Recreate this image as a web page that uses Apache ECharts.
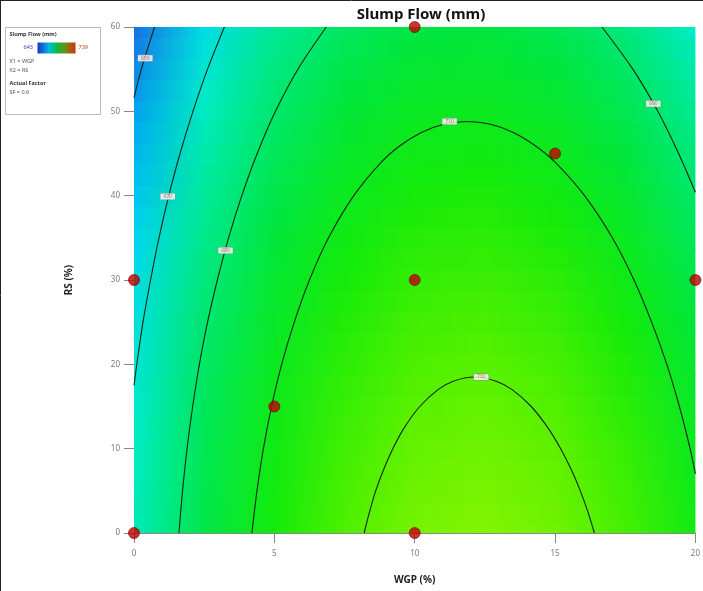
<!DOCTYPE html>
<html><head><meta charset="utf-8">
<script src="https://cdn.jsdelivr.net/npm/echarts@6/dist/echarts.min.js"></script>
<style>html,body{margin:0;padding:0;background:#fff}#c{width:703px;height:591px}</style>
</head><body><div id="c"></div>
<script>
// ---- data ----
const wgpCols = [0, 2.5, 5, 7.5, 10, 12.5, 15, 17.5, 20];
const rsRows = [0, 2.5, 5, 7.5, 10, 12.5, 15, 17.5, 20, 22.5, 25, 27.5, 30, 32.5, 35, 37.5, 40, 42.5, 45, 47.5, 50, 52.5, 55, 57.5, 60];
const slumpGrid = [
  [674.9, 697.5, 715.1, 727.5, 734.7, 736.9, 733.9, 725.8, 712.6],
  [674.4, 697.0, 714.5, 726.8, 734.1, 736.2, 733.2, 725.0, 711.8],
  [673.9, 696.4, 713.9, 726.2, 733.3, 735.4, 732.3, 724.2, 710.8],
  [673.2, 695.8, 713.1, 725.4, 732.5, 734.6, 731.5, 723.2, 709.9],
  [672.6, 695.0, 712.4, 724.6, 731.7, 733.6, 730.5, 722.2, 708.8],
  [671.8, 694.2, 711.5, 723.7, 730.7, 732.6, 729.4, 721.1, 707.7],
  [671.0, 693.3, 710.6, 722.7, 729.7, 731.6, 728.3, 720.0, 706.5],
  [670.0, 692.4, 709.6, 721.7, 728.6, 730.4, 727.1, 718.7, 705.2],
  [669.1, 691.3, 708.5, 720.5, 727.4, 729.2, 725.9, 717.4, 703.8],
  [668.0, 690.2, 707.3, 719.3, 726.2, 727.9, 724.5, 716.0, 702.4],
  [666.9, 689.1, 706.1, 718.1, 724.9, 726.6, 723.1, 714.6, 700.9],
  [665.7, 687.8, 704.8, 716.7, 723.5, 725.1, 721.7, 713.0, 699.3],
  [664.4, 686.5, 703.5, 715.3, 722.0, 723.6, 720.1, 711.4, 697.7],
  [663.0, 685.1, 702.0, 713.8, 720.5, 722.0, 718.5, 709.8, 696.0],
  [661.6, 683.6, 700.5, 712.2, 718.9, 720.4, 716.8, 708.0, 694.2],
  [660.1, 682.1, 698.9, 710.6, 717.2, 718.7, 715.0, 706.2, 692.3],
  [658.5, 680.4, 697.2, 708.9, 715.4, 716.9, 713.1, 704.3, 690.3],
  [656.9, 678.8, 695.5, 707.1, 713.6, 715.0, 711.2, 702.3, 688.3],
  [655.2, 677.0, 693.7, 705.3, 711.7, 713.0, 709.2, 700.3, 686.2],
  [653.4, 675.1, 691.8, 703.3, 709.7, 711.0, 707.2, 698.2, 684.1],
  [651.5, 673.2, 689.8, 701.3, 707.7, 708.9, 705.0, 696.0, 681.9],
  [649.6, 671.2, 687.8, 699.2, 705.6, 706.7, 702.8, 693.7, 679.5],
  [647.6, 669.2, 685.7, 697.1, 703.4, 704.5, 700.5, 691.4, 677.2],
  [645.5, 667.1, 683.5, 694.9, 701.1, 702.2, 698.1, 689.0, 674.7],
  [643.3, 664.8, 681.3, 692.6, 698.7, 699.8, 695.7, 686.5, 672.2]
];
const contour650 = [[0,51.6],[0.18,54],[0.35,56],[0.54,58],[0.73,60]];
const contour670 = [[0,17.5],[0.10,20],[0.32,25],[0.59,30],[0.89,35],[1.24,40],[1.64,45],[2.10,50],[2.62,55],[3.22,60]];
const contour690L = [[1.60,0],[1.73,5],[1.89,10],[2.09,15],[2.33,20],[2.62,25],[2.97,30],[3.37,35],[3.84,40],[4.39,45],[5.04,50],[5.84,55],[6.85,60]];
const contour690R = [[16.67,60],[17.77,55],[18.66,50],[19.40,45],[20,40.4]];
const contour710 = [[4.20,0],[4.38,5],[4.61,10],[4.90,15],[5.26,20],[5.71,25],[6.25,30],[6.93,35],[7.83,40],[8.82,44],[9.51,46],[10.24,47.5],[11.06,48.5],[11.86,48.8],[12.67,48.5],[13.51,47.5],[14.26,46],[14.99,44],[16.05,40],[17.04,35],[17.81,30],[18.44,25],[18.98,20],[19.43,15],[19.81,10],[20,7.0]];
const contour730 = [[8.20,0],[8.39,2.5],[8.61,5],[8.89,7.5],[9.22,10],[9.63,12.5],[10.18,15],[10.83,17],[11.37,18],[12.13,18.5],[12.90,18],[13.47,17],[14.15,15],[14.74,12.5],[15.20,10],[15.58,7.5],[15.90,5],[16.17,2.5],[16.40,0]];
const contourLabelText = ['650', '670', '690', '690', '710', '730'];
const contourLabelAt = [[0.4,56.3],[1.2,39.9],[3.26,33.5],[18.5,50.9],[11.24,48.8],[12.37,18.5]];
const designWGP = [10, 15, 10, 20, 0, 5, 0, 10];
const designRS  = [60, 45, 30, 30, 30, 15, 0, 0];
const xTicks = [0, 5, 10, 15, 20];
const yTicks = [0, 10, 20, 30, 40, 50, 60];
const legendMin = 643, legendMax = 739;

// ---- colour scale (style) ----
const cStops = [
  [643, [25,110,225]], [652, [0,165,240]], [662, [0,215,240]], [672, [0,235,200]],
  [685, [0,232,130]], [700, [0,230,60]], [715, [20,235,10]], [728, [80,240,0]], [739, [140,245,0]]
];
function colorOf(v){
  if (v <= cStops[0][0]) return 'rgb(' + cStops[0][1].join(',') + ')';
  for (let k = 1; k < cStops.length; k++){
    if (v <= cStops[k][0]){
      const a = cStops[k-1], b = cStops[k], t = (v - a[0]) / (b[0] - a[0]);
      const c = a[1].map((q, i) => Math.round(q + (b[1][i] - q) * t));
      return 'rgb(' + c.join(',') + ')';
    }
  }
  return 'rgb(' + cStops[cStops.length-1][1].join(',') + ')';
}

const chart = echarts.init(document.getElementById('c'), null, {renderer: 'canvas'});
const FONT = 'Noto Sans';
const xMin = xTicks[0], xMax = xTicks[xTicks.length-1];
const yMin = yTicks[0], yMax = yTicks[yTicks.length-1];

function contourSeries(pts){
  return {type:'line', data: pts, smooth: 0.3, symbol:'none', clip: true, z: 3,
    lineStyle:{color:'#142414', width:1.1}, silent:true};
}

const option = {
  animation: false,
  backgroundColor: '#fff',
  title: {text:'Slump Flow (mm)', left: 416, top: 2, textAlign:'center',
    textStyle:{fontFamily: FONT, fontSize: 15, fontWeight:'bold', color:'#111'}},
  grid: {left: 134, right: 5, top: 27, bottom: 58},
  xAxis: {type:'value', min: xMin, max: xMax, interval: 5, name:'WGP (%)', nameLocation:'middle', nameGap: 42,
    nameTextStyle:{fontFamily: FONT, fontSize: 10, fontWeight:'bold', color:'#222'},
    axisLine:{show:true, onZero:false, lineStyle:{color:'#888'}}, axisTick:{show:true, length:10, lineStyle:{color:'#888'}},
    axisLabel:{fontFamily: FONT, fontSize: 8, color:'#777', margin: 17}, splitLine:{show:false}},
  yAxis: {type:'value', min: yMin, max: yMax, interval: 10, name:'RS (%)', nameLocation:'middle', nameGap: 60,
    nameTextStyle:{fontFamily: FONT, fontSize: 10, fontWeight:'bold', color:'#222'},
    axisLine:{show:true, onZero:false, lineStyle:{color:'#888'}}, axisTick:{show:true, length:10, lineStyle:{color:'#888'}},
    axisLabel:{fontFamily: FONT, fontSize: 8, color:'#777', margin: 14}, splitLine:{show:false}},
  series: [
    {type:'custom', z: 1, silent: true, clip: true,
      data: rsRows.map((y, j) => [xMin, y, j]),
      encode:{x:0, y:1},
      renderItem: function(params, api){
        const j = api.value(2);
        const y = rsRows[j];
        const lo = Math.max(yMin, y - 1.25), hi = Math.min(yMax, y + 1.25);
        const p0 = api.coord([xMin, hi]);
        const p1 = api.coord([xMax, lo]);
        const stops = wgpCols.map((x, i) => ({offset: (x - xMin) / (xMax - xMin), color: colorOf(slumpGrid[j][i])}));
        return {type:'rect', shape:{x:p0[0], y:p0[1] - 0.5, width:p1[0]-p0[0], height:p1[1]-p0[1] + 1},
          style:{fill: new echarts.graphic.LinearGradient(0, 0, 1, 0, stops)}};
      }
    },
    contourSeries(contour650), contourSeries(contour670), contourSeries(contour690L),
    contourSeries(contour690R), contourSeries(contour710), contourSeries(contour730),
    {type:'scatter', z: 4, silent: true, symbolSize: 0,
      data: contourLabelAt.map((p, i) => ({value: p, name: contourLabelText[i]})),
      label:{show:true, position:'inside', formatter: p => p.name, fontFamily: FONT, fontSize: 5, color:'#b04848',
        backgroundColor:'#fff', borderColor:'#888', borderWidth: 0.6, padding:[1,3,0,3]}},
    {type:'scatter', z: 5, silent: true, symbolSize: 11,
      data: designWGP.map((x, i) => [x, designRS[i]]),
      itemStyle:{color:'#c00000', borderColor:'#7a0000', borderWidth: 0.8}, clip: false}
  ],
  graphic: [
    {type:'line', shape:{x1:0.5, y1:0, x2:0.5, y2:591}, style:{stroke:'#222', lineWidth:1}},
    {type:'line', shape:{x1:0, y1:0.5, x2:703, y2:0.5}, style:{stroke:'#222', lineWidth:1}},
    {type:'group', left: 5, top: 27, children: [
      {type:'rect', shape:{x:0, y:0, width:95, height:87}, style:{fill:'#fff', stroke:'#bbb', lineWidth:1}},
      {type:'text', x:4, y:4, style:{text:'Slump Flow (mm)', fontFamily: FONT, fontSize:5.5, fontWeight:'bold', fill:'#333'}},
      {type:'text', x:18, y:17, style:{text:String(legendMin), fontFamily: FONT, fontSize:5.5, fill:'#2a3fc0'}},
      {type:'rect', shape:{x:32, y:15, width:38, height:11},
        style:{fill: new echarts.graphic.LinearGradient(0,0,1,0,[
          {offset:0, color:'#1a2fd0'}, {offset:0.3, color:'#00b8e0'}, {offset:0.5, color:'#00c040'},
          {offset:0.75, color:'#7a8a10'}, {offset:1, color:'#d03010'}])}},
      {type:'text', x:73, y:17, style:{text:String(legendMax), fontFamily: FONT, fontSize:5.5, fill:'#d04020'}},
      {type:'text', x:4, y:31, style:{text:'X1 = WGP', fontFamily: FONT, fontSize:5.5, fill:'#555'}},
      {type:'text', x:4, y:40, style:{text:'X2 = RS', fontFamily: FONT, fontSize:5.5, fill:'#555'}},
      {type:'text', x:4, y:53, style:{text:'Actual Factor', fontFamily: FONT, fontSize:5.5, fontWeight:'bold', fill:'#333'}},
      {type:'text', x:4, y:62, style:{text:'SF = 0.6', fontFamily: FONT, fontSize:5.5, fill:'#555'}}
    ]}
  ]
};
chart.setOption(option);
</script>
</body></html>
